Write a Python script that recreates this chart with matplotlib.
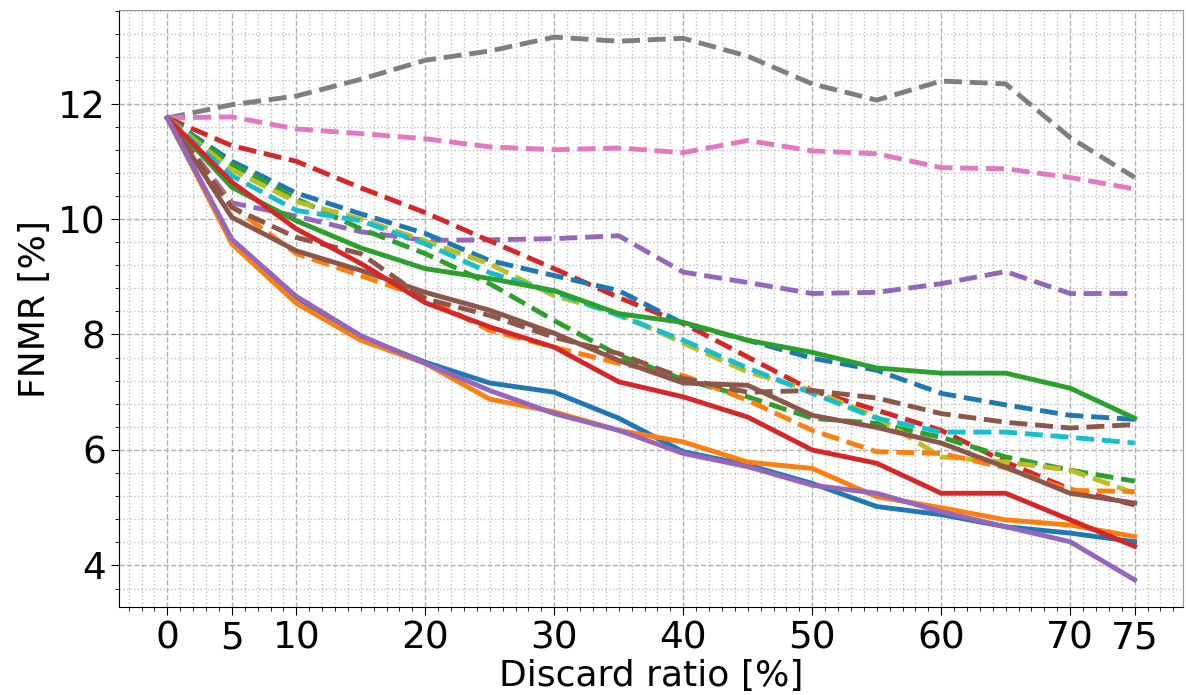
import matplotlib

matplotlib.use("Agg")
import matplotlib.pyplot as plt
from matplotlib.ticker import AutoMinorLocator, MultipleLocator

# discard ratio [%]
ratios = [0, 5, 10, 15, 20, 25, 30, 35, 40, 45, 50, 55, 60, 65, 70, 75]
xticks = [0, 5, 10, 20, 30, 40, 50, 60, 70, 75]

# FNMR [%] -- dashed curves
gray_dash   = [11.75, 11.98, 12.13, 12.42, 12.75, 12.91, 13.15, 13.08, 13.13, 12.82, 12.34, 12.06, 12.39, 12.34, 11.41, 10.72]
pink_dash   = [11.75, 11.77, 11.56, 11.48, 11.39, 11.25, 11.20, 11.23, 11.15, 11.36, 11.18, 11.13, 10.89, 10.87, 10.72, 10.52]
purple_dash = [11.75, 10.28, 10.05, 9.78, 9.63, 9.64, 9.66, 9.71, 9.08, 8.90, 8.71, 8.73, 8.88, 9.09, 8.71, 8.71]
red_dash    = [11.75, 11.27, 11.00, 10.54, 10.11, 9.62, 9.14, 8.64, 8.19, 7.61, 7.03, 6.69, 6.34, 5.79, 5.32, 5.05]
blue_dash   = [11.75, 11.00, 10.45, 10.09, 9.75, 9.28, 9.02, 8.76, 8.19, 7.90, 7.59, 7.38, 6.98, 6.78, 6.60, 6.53]
green_dash  = [11.75, 10.95, 10.35, 9.83, 9.40, 8.88, 8.24, 7.64, 7.22, 6.92, 6.55, 6.46, 6.22, 5.88, 5.65, 5.46]
cyan_dash   = [11.75, 10.75, 10.15, 9.97, 9.57, 9.07, 8.73, 8.33, 7.90, 7.42, 6.98, 6.55, 6.31, 6.31, 6.22, 6.12]
olive_dash  = [11.75, 10.85, 10.30, 10.00, 9.62, 9.22, 8.67, 8.36, 7.85, 7.35, 7.03, 6.57, 5.88, 5.79, 5.65, 5.25]
orange_dash = [11.75, 10.22, 9.40, 9.02, 8.63, 8.07, 7.78, 7.50, 7.29, 6.86, 6.34, 5.97, 5.94, 5.69, 5.30, 5.28]
brown_dash  = [11.75, 10.20, 9.68, 9.40, 8.62, 8.33, 7.95, 7.67, 7.24, 7.00, 7.03, 6.90, 6.63, 6.48, 6.38, 6.44]

# FNMR [%] -- solid curves
blue_solid   = [11.75, 9.62, 8.64, 7.96, 7.52, 7.16, 7.00, 6.55, 5.97, 5.74, 5.42, 5.02, 4.88, 4.67, 4.56, 4.41]
orange_solid = [11.75, 9.57, 8.54, 7.90, 7.50, 6.88, 6.66, 6.34, 6.14, 5.79, 5.68, 5.19, 5.00, 4.79, 4.70, 4.50]
green_solid  = [11.75, 10.55, 9.97, 9.50, 9.14, 8.97, 8.76, 8.36, 8.21, 7.90, 7.69, 7.42, 7.33, 7.33, 7.07, 6.55]
red_solid    = [11.75, 10.64, 9.83, 9.23, 8.55, 8.13, 7.78, 7.18, 6.92, 6.57, 6.00, 5.77, 5.25, 5.25, 4.79, 4.33]
purple_solid = [11.75, 9.65, 8.66, 7.98, 7.50, 7.03, 6.63, 6.34, 5.94, 5.71, 5.39, 5.25, 4.93, 4.67, 4.41, 3.75]
brown_solid  = [11.75, 10.03, 9.45, 9.11, 8.73, 8.42, 8.02, 7.55, 7.16, 7.12, 6.60, 6.39, 6.12, 5.70, 5.25, 5.08]

dashed = [
    (gray_dash, "tab:gray"), (pink_dash, "tab:pink"), (purple_dash, "tab:purple"),
    (red_dash, "tab:red"), (blue_dash, "tab:blue"), (green_dash, "tab:green"),
    (olive_dash, "tab:olive"), (cyan_dash, "tab:cyan"), (orange_dash, "tab:orange"),
    (brown_dash, "tab:brown"),
]
solid = [
    (blue_solid, "tab:blue"), (orange_solid, "tab:orange"), (green_solid, "tab:green"),
    (brown_solid, "tab:brown"), (red_solid, "tab:red"), (purple_solid, "tab:purple"),
]

fig = plt.figure(figsize=(11.86, 6.95), dpi=100)
ax = fig.add_axes([0.1003, 0.1266, 0.8972, 0.859])

for ys, c in dashed:
    ax.plot(ratios, ys, color=c, linestyle="--", linewidth=3.5)
for ys, c in solid:
    ax.plot(ratios, ys, color=c, linestyle="-", linewidth=3.5)

ax.set_xticks(xticks)
ax.xaxis.set_minor_locator(MultipleLocator(1))
ax.set_yticks([4, 6, 8, 10, 12])
ax.yaxis.set_minor_locator(AutoMinorLocator(5))
ax.tick_params(axis="both", which="major", labelsize=27, length=6)
ax.tick_params(axis="both", which="minor", length=3)

ax.grid(which="major", linestyle="--", color="#b0b0b0", linewidth=1)
ax.grid(which="minor", linestyle=":", color="#c0c0c0", linewidth=1)
ax.set_axisbelow(True)

ax.spines["top"].set_color("#999999")
ax.spines["right"].set_color("#999999")

ax.set_xlabel("Discard ratio [%]", fontsize=26, labelpad=2)
ax.set_ylabel("FNMR [%]", fontsize=26)

fig.savefig("out.png", dpi=100)
